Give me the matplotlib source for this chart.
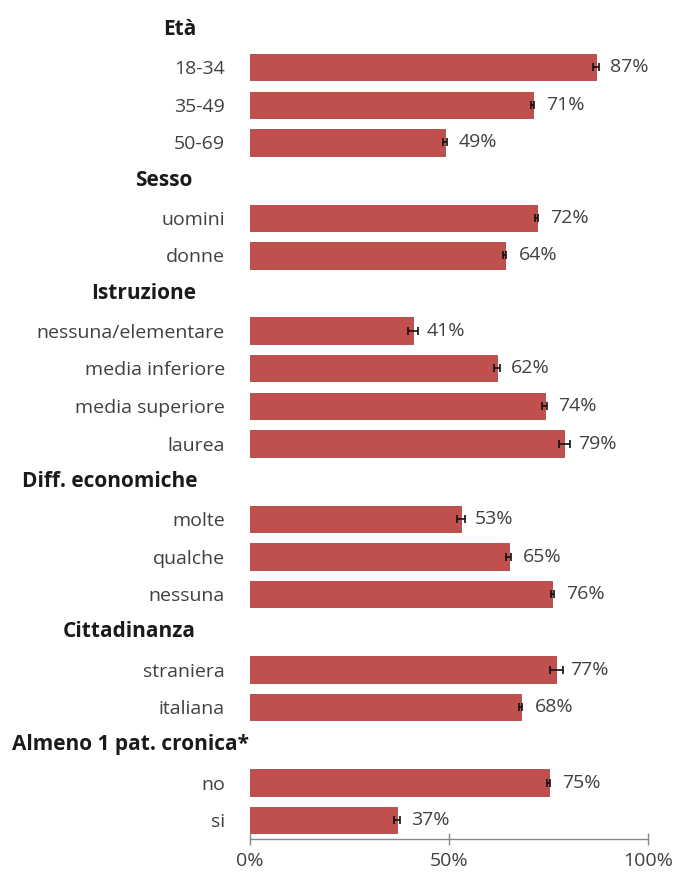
import matplotlib
matplotlib.use("Agg")
import matplotlib.pyplot as plt
import matplotlib.transforms as mtransforms

# Survey breakdown: share (%) by group, with confidence half-widths
group_titles = ["Età", "Sesso", "Istruzione", "Diff. economiche",
                "Cittadinanza", "Almeno 1 pat. cronica*"]

eta_labels = ["18-34", "35-49", "50-69"]
eta_values = [87, 71, 49]
eta_err = [0.8, 0.4, 0.4]

sesso_labels = ["uomini", "donne"]
sesso_values = [72, 64]
sesso_err = [0.4, 0.4]

istruzione_labels = ["nessuna/elementare", "media inferiore",
                     "media superiore", "laurea"]
istruzione_values = [41, 62, 74, 79]
istruzione_err = [1.2, 0.7, 0.6, 1.4]

diff_labels = ["molte", "qualche", "nessuna"]
diff_values = [53, 65, 76]
diff_err = [1.0, 0.6, 0.4]

citt_labels = ["straniera", "italiana"]
citt_values = [77, 68]
citt_err = [1.7, 0.4]

cronica_labels = ["no", "si"]
cronica_values = [75, 37]
cronica_err = [0.4, 0.8]

x_ticks = [0, 50, 100]
x_ticklabels = ["0%", "50%", "100%"]

groups = [
    (eta_labels, eta_values, eta_err),
    (sesso_labels, sesso_values, sesso_err),
    (istruzione_labels, istruzione_values, istruzione_err),
    (diff_labels, diff_values, diff_err),
    (citt_labels, citt_values, citt_err),
    (cronica_labels, cronica_values, cronica_err),
]

# Header positions (left edge, in figure pixels)
header_left_px = [163, 135, 91, 22, 63, 12]

FONT = "Open Sans"
BAR_COLOR = "#C0504D"
TEXT_COLOR = "#404040"
LABEL_SIZE = 14
HEADER_SIZE = 15

W, H = 675, 876
fig = plt.figure(figsize=(W / 100, H / 100), dpi=100)
fig.patch.set_facecolor("white")

ax = fig.add_axes([250 / W, 1 - 839 / H, (648 - 250) / W, (839 - 10.6) / H])

# Lay out rows: each group gets a header slot followed by its bars
bar_y, bar_labels, bar_vals, bar_errs, header_y = [], [], [], [], []
slot = 0
for labels, values, errs in groups:
    header_y.append(slot)
    slot += 1
    for lab, v, e in zip(labels, values, errs):
        bar_y.append(slot)
        bar_labels.append(lab)
        bar_vals.append(v)
        bar_errs.append(e)
        slot += 1

ax.barh(bar_y, bar_vals, height=0.70, color=BAR_COLOR,
        edgecolor="#B04440", linewidth=0.6, zorder=2)
ax.errorbar(bar_vals, bar_y, xerr=bar_errs, fmt="none", ecolor="#111111",
            elinewidth=1.2, capsize=3.0, capthick=1.2, zorder=3)

for y, v in zip(bar_y, bar_vals):
    ax.annotate(f"{v}%", xy=(v, y), xytext=(10, 0), textcoords="offset points",
                ha="left", va="center", fontsize=LABEL_SIZE, family=FONT,
                color=TEXT_COLOR)

ax.set_ylim(slot - 0.5, -0.5)
ax.set_xlim(0, 100)

ax.set_yticks(bar_y)
ax.set_yticklabels(bar_labels, fontsize=LABEL_SIZE, family=FONT, color=TEXT_COLOR)
ax.tick_params(axis="y", length=0, pad=18)

ax.set_xticks(x_ticks)
ax.set_xticklabels(x_ticklabels, fontsize=LABEL_SIZE, family=FONT, color=TEXT_COLOR)
ax.tick_params(axis="x", direction="inout", length=8, width=1,
               color="#888888", pad=5)

for side in ["top", "right", "left"]:
    ax.spines[side].set_visible(False)
ax.spines["bottom"].set_color("#888888")
ax.spines["bottom"].set_linewidth(1)

trans = mtransforms.blended_transform_factory(fig.transFigure, ax.transData)
for title, hy, lx in zip(group_titles, header_y, header_left_px):
    fig.text(lx / W, hy, title, transform=trans, ha="left", va="center",
             fontsize=HEADER_SIZE, fontweight="bold", family=FONT, color="#1A1A1A")

fig.savefig("out.png", dpi=100, facecolor="white")
